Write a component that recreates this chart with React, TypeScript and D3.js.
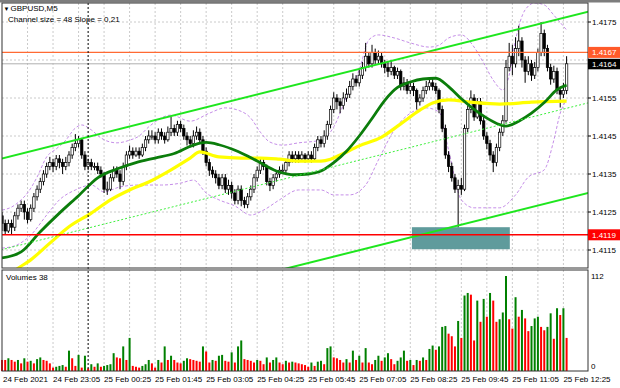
import React from "react";
import * as d3 from "d3";

// ---------- DATA (GBPUSD M5, 24 Feb 21:45 .. 25 Feb 12:30) ----------
const closes = [
  1.4122,1.4120,1.4122,1.4121,1.4124,1.4126,1.4127,1.4125,1.4123,1.4126,
  1.4129,1.4131,1.4133,1.4135,1.4137,1.4138,1.4137,1.4139,1.4138,1.4137,
  1.4138,1.4140,1.4142,1.4143,1.4144,1.4140,1.4137,1.4138,1.4137,1.4137,
  1.4136,1.4135,1.4131,1.4131,1.4134,1.4136,1.4135,1.4133,1.4137,1.4140,
  1.4141,1.4140,1.4141,1.4140,1.4142,1.4144,1.4145,1.4145,1.4144,1.4146,
  1.4145,1.4144,1.4146,1.4147,1.4146,1.4148,1.4147,1.4145,1.4144,1.4143,
  1.4145,1.4146,1.4144,1.4141,1.4138,1.4136,1.4135,1.4134,1.4132,1.4134,
  1.4131,1.4132,1.4130,1.4128,1.4131,1.4128,1.4127,1.4129,1.4131,1.4134,
  1.4136,1.4138,1.4137,1.4133,1.4132,1.4134,1.4135,1.4136,1.4136,1.4138,
  1.4140,1.4139,1.4140,1.4139,1.4140,1.4139,1.4140,1.4139,1.4142,1.4144,
  1.4143,1.4145,1.4148,1.4152,1.4155,1.4154,1.4153,1.4155,1.4156,1.4158,
  1.4160,1.4159,1.4161,1.4163,1.4166,1.4164,1.4167,1.4165,1.4166,1.4164,
  1.4163,1.4162,1.4163,1.4161,1.4162,1.4158,1.4159,1.4157,1.4158,1.4157,
  1.4154,1.4155,1.4157,1.4158,1.4159,1.4158,1.4157,1.4152,1.4147,1.4140,
  1.4137,1.4134,1.4131,1.4132,1.4131,1.4147,1.4152,1.4155,1.4150,1.4154,
  1.4149,1.4145,1.4143,1.4140,1.4138,1.4142,1.4146,1.4149,1.4163,1.4166,
  1.4164,1.4168,1.4170,1.4165,1.4162,1.4164,1.4161,1.4163,1.4167,1.4172,
  1.4168,1.4163,1.4160,1.4162,1.4157,1.4156,1.4157,1.4164,
];
const firstOpen = 1.4124;
const highs = [
  1.4125,1.4123,1.4123,1.4123,1.4125,1.4127,1.4128,1.4128,1.4126,1.4127,
  1.4130,1.4132,1.4134,1.4136,1.4138,1.41395,1.4139,1.4140,1.4140,1.4139,
  1.41395,1.4141,1.4143,1.41455,1.4145,1.41445,1.4141,1.4139,1.4139,1.4138,
  1.4138,1.4137,1.41355,1.4133,1.4135,1.4137,1.4137,1.4136,1.4138,1.4141,
  1.41425,1.4142,1.4142,1.4142,1.4143,1.4145,1.41465,1.41465,1.4146,1.4147,
  1.4147,1.4146,1.41475,1.4150,1.4148,1.4149,1.4149,1.4148,1.4146,1.4145,
  1.41465,1.41475,1.4147,1.4145,1.4142,1.4139,1.4137,1.4136,1.4135,1.4135,
  1.4135,1.41335,1.4133,1.4131,1.4132,1.4132,1.4129,1.4130,1.4132,1.4135,
  1.4137,1.4139,1.4139,1.41375,1.4134,1.4135,1.4136,1.4137,1.41375,1.4139,
  1.4141,1.4141,1.4141,1.4141,1.4141,1.41405,1.4141,1.4141,1.4143,1.4145,
  1.4145,1.41465,1.4149,1.4153,1.41565,1.4156,1.4155,1.41565,1.41575,1.41595,
  1.41615,1.4161,1.41625,1.41645,1.41695,1.4167,1.4169,1.4168,1.41675,1.4167,
  1.4165,1.41645,1.4165,1.41635,1.4163,1.41625,1.41605,1.4160,1.4159,1.4159,
  1.41575,1.4156,1.4158,1.41595,1.41605,1.4160,1.4159,1.41575,1.4153,1.4148,
  1.4141,1.4138,1.4135,1.41335,1.4134,1.4148,1.4153,1.4157,1.4156,1.4155,
  1.4155,1.4150,1.4146,1.4144,1.4141,1.4143,1.4147,1.41505,1.4165,1.41695,
  1.4169,1.4171,1.4174,1.4171,1.4166,1.4166,1.4165,1.41645,1.4168,1.4175,
  1.4173,1.4169,1.4164,1.41635,1.4163,1.4158,1.4159,1.4166,
];
const lows = [
  1.4120,1.4119,1.41195,1.4119,1.4120,1.4123,1.4125,1.4123,1.4122,1.41225,
  1.4125,1.4128,1.4130,1.4132,1.4134,1.4136,1.41355,1.4136,1.41365,1.4135,
  1.4136,1.4137,1.4139,1.4141,1.4142,1.4139,1.4136,1.4136,1.4136,1.4136,
  1.4135,1.4134,1.4130,1.41295,1.41305,1.4133,1.4134,1.4131,1.4132,1.4136,
  1.4139,1.4139,1.41395,1.4139,1.41395,1.4141,1.4143,1.4144,1.4143,1.4143,
  1.4144,1.4143,1.41435,1.4145,1.4145,1.4145,1.4146,1.4144,1.41425,1.4142,
  1.4142,1.4144,1.4143,1.4140,1.4137,1.41345,1.4134,1.41325,1.4131,1.4131,
  1.4130,1.41295,1.41285,1.4127,1.4127,1.41265,1.4126,1.4126,1.4128,1.4130,
  1.4133,1.4135,1.4136,1.4132,1.41305,1.4131,1.4133,1.4134,1.4135,1.4135,
  1.4137,1.4138,1.4138,1.4138,1.41385,1.4138,1.41385,1.4138,1.41385,1.4141,
  1.4142,1.4142,1.4144,1.4147,1.4151,1.4152,1.4151,1.4152,1.4154,1.4155,
  1.4157,1.4158,1.4158,1.4160,1.4162,1.4163,1.4163,1.4164,1.4164,1.4163,
  1.41615,1.41605,1.4161,1.4160,1.4160,1.4157,1.4157,1.4156,1.4156,1.41555,
  1.4152,1.4153,1.4154,1.4156,1.4157,1.4157,1.4156,1.4151,1.4146,1.4139,
  1.41355,1.4133,1.4130,1.4121,1.41295,1.41305,1.4146,1.4151,1.4149,1.41495,
  1.4148,1.4144,1.41415,1.41385,1.41355,1.4137,1.4141,1.4145,1.41485,1.4162,
  1.4161,1.4163,1.4166,1.4163,1.4159,1.4161,1.41595,1.4160,1.4162,1.4166,
  1.4166,1.4162,1.41585,1.4159,1.4156,1.41525,1.4155,1.4156,
];
const volumes = [
  13,13,15,13,11,13,9,15,11,12,
  9,14,16,13,12,9,4,5,6,7,
  5,24,15,6,19,4,18,3,8,5,
  9,5,6,7,8,21,16,15,29,13,
  39,6,5,4,6,8,13,9,4,13,
  10,29,13,18,13,10,9,12,15,14,
  13,12,11,29,23,10,13,12,18,19,
  12,11,22,10,29,36,14,13,12,10,
  13,12,8,16,10,13,16,10,8,12,
  10,11,10,9,8,7,5,10,6,11,
  12,8,27,29,16,15,13,10,14,10,
  24,13,18,10,27,10,8,13,18,12,
  16,21,14,8,12,16,24,12,13,7,
  13,12,16,13,26,30,25,29,52,53,
  44,41,29,59,39,89,92,90,36,83,
  58,85,64,92,83,58,61,69,112,61,
  50,87,64,72,62,47,53,62,64,52,
  48,52,68,38,74,66,74,39,
];
const prevVolume = 14;

// indicator readings: [bar index, price]
const greenMa = [[0,1.41129],[6,1.41145],[12,1.41198],[18,1.41247],[24,1.41293],[30,1.4134],[36,1.41363],[42,1.4138],[48,1.41392],[54,1.41404],[60,1.41426],[64,1.41433],[68,1.41427],[74,1.41409],[80,1.41384],[86,1.41358],[92,1.41348],[96,1.4135],[100,1.41358],[104,1.4138],[108,1.4141],[112,1.4145],[116,1.41496],[120,1.41544],[124,1.41578],[128,1.41592],[132,1.416],[136,1.41602],[140,1.4158],[144,1.41548],[148,1.4152],[152,1.41497],[156,1.4148],[158,1.41476],[162,1.41489],[166,1.4151],[170,1.41538],[174,1.41572],[177,1.41584]];
const yellowMa = [[0,1.4106],[4,1.41095],[9,1.41124],[15,1.41168],[21,1.41211],[28,1.41247],[34,1.41282],[40,1.41308],[46,1.41329],[53,1.41361],[59,1.41392],[62,1.41408],[68,1.41395],[75,1.41392],[81,1.41392],[87,1.41389],[93,1.41384],[100,1.41384],[103,1.41389],[106,1.414],[112,1.41424],[119,1.41447],[125,1.41482],[131,1.41518],[135,1.41537],[140,1.41545],[147,1.41539],[156,1.41534],[166,1.41539],[177,1.41542]];
const bbUpper = [[0,1.41255],[3,1.41263],[6,1.41282],[8,1.413],[11,1.41342],[14,1.41395],[17,1.41416],[20,1.41439],[23,1.41471],[25,1.41479],[28,1.41466],[31,1.41445],[34,1.41434],[36,1.41432],[40,1.41439],[43,1.4145],[46,1.41474],[53,1.41505],[59,1.41489],[65,1.4151],[70,1.41524],[74,1.41518],[78,1.41497],[81,1.4146],[84,1.41434],[88,1.41426],[93,1.41432],[100,1.41439],[104,1.41474],[108,1.41553],[112,1.41624],[115,1.41703],[118,1.41716],[123,1.41708],[128,1.41695],[134,1.41684],[137,1.41689],[140,1.41708],[144,1.41716],[148,1.41684],[151,1.41642],[154,1.41597],[157,1.41571],[159,1.4161],[161,1.41703],[164,1.41782],[167,1.418],[170,1.41795],[173,1.41768],[177,1.41729]];
const bbLower = [[0,1.41155],[4,1.41161],[9,1.41189],[14,1.41242],[18,1.41282],[23,1.41308],[28,1.41321],[32,1.41303],[37,1.41316],[43,1.41321],[50,1.41321],[56,1.41326],[60,1.41334],[64,1.413],[68,1.41282],[73,1.41266],[78,1.41242],[82,1.41255],[87,1.41282],[93,1.41308],[100,1.41308],[104,1.41295],[109,1.41295],[114,1.41321],[118,1.41387],[123,1.41466],[128,1.4151],[133,1.41524],[137,1.41513],[140,1.41413],[144,1.41282],[148,1.41261],[156,1.41261],[161,1.41295],[165,1.41342],[170,1.41361],[173,1.41439],[175,1.4151],[177,1.41545]];

// regression channel (two anchor points each: [bar, price])
const channelMid = [[0,1.41151],[177,1.41523]];
const channelUp = [[0,1.41391],[177,1.41763]];
const channelDown = [[0,1.40914],[177,1.41286]];

const resistanceLevel = 1.4167;
const supportLevel = 1.4119;
const bidLevel = 1.4164;
const zone = { from: 128.5, to: 159.2, top: 1.4121, bottom: 1.41152 };

const gridPrices = [1.4115, 1.4125, 1.4135, 1.4145, 1.4155, 1.4165, 1.4175];
const priceLabels = ["1.4115", "1.4125", "1.4135", "1.4145", "1.4155", "1.4175"];
const timeLabelBars = [0, 16, 32, 48, 64, 80, 96, 112, 128, 144, 160, 176];
const timeLabels = ["24 Feb 2021", "24 Feb 23:05", "25 Feb 00:25", "25 Feb 01:45", "25 Feb 03:05", "25 Feb 04:25", "25 Feb 05:45", "25 Feb 07:05", "25 Feb 08:25", "25 Feb 09:45", "25 Feb 11:05", "25 Feb 12:25"];
const dayBreakBar = 27;

export default function App() {
  const W = 620, H = 388;
  const L = 2, R = 588, mT = 3, mB = 268, vT = 270, vB = 371;
  const n = closes.length;
  const x = d3.scaleLinear().domain([0, n - 1]).range([2, 566.6]);
  const y = d3.scaleLinear().domain([1.4115, 1.4175]).range([250, 22]);
  const yv = d3.scaleLinear().domain([0, 112]).range([vB, 276]);
  const curve = d3.line<number[]>().x(d => x(d[0])).y(d => y(d[1])).curve(d3.curveMonotoneX);
  const font = "'Liberation Sans', Arial, sans-serif";
  const fs = 8;

  const chan = (pts: number[][]) => {
    const s = d3.scaleLinear().domain([pts[0][0], pts[1][0]]).range([pts[0][1], pts[1][1]]);
    const b0 = x.invert(L - 5), b1 = x.invert(R + 5);
    return { x1: x(b0), y1: y(s(b0)), x2: x(b1), y2: y(s(b1)) };
  };
  const cm = chan(channelMid), cu = chan(channelUp), cd = chan(channelDown);

  const gridBars = d3.range(8, n, 8);
  const bw = 2.4;

  return (
    <div style={{ position: "absolute", left: 0, top: 0 }}>
      <svg width={W} height={H} style={{ display: "block", background: "#fff" }} fontFamily={font}>
        <defs>
          <clipPath id="mainClip"><rect x={L} y={mT} width={R - L} height={mB - mT} /></clipPath>
        </defs>
        <rect x={0} y={0} width={W} height={2.5} fill="#7d7d7d" />
        {gridBars.map(b => (
          <line key={"gv" + b} x1={x(b)} x2={x(b)} y1={mT} y2={mB} stroke="#bdbdbd" strokeWidth={0.8} strokeDasharray="2,2" />
        ))}
        {gridPrices.map(p => (
          <line key={"gh" + p} x1={L} x2={R} y1={y(p)} y2={y(p)} stroke="#bdbdbd" strokeWidth={0.8} strokeDasharray="2,2" />
        ))}
        {gridBars.map(b => (
          <line key={"gvv" + b} x1={x(b)} x2={x(b)} y1={vT} y2={vB} stroke="#bdbdbd" strokeWidth={0.8} strokeDasharray="2,2" />
        ))}

        <g clipPath="url(#mainClip)">
          <rect x={x(zone.from)} y={y(zone.top)} width={x(zone.to) - x(zone.from)} height={y(zone.bottom) - y(zone.top)} fill="#5f9b9c" />
          <line x1={L} x2={R} y1={y(bidLevel)} y2={y(bidLevel)} stroke="#b0b0b0" strokeWidth={1} />
          <path d={curve(bbUpper) || ""} fill="none" stroke="#c58ee8" strokeWidth={1} strokeDasharray="3,2" />
          <path d={curve(bbLower) || ""} fill="none" stroke="#c58ee8" strokeWidth={1} strokeDasharray="3,2" />
          {closes.map((c, i) => {
            const o = i === 0 ? firstOpen : closes[i - 1];
            const cx = x(i);
            const top = y(Math.max(o, c)), bot = y(Math.min(o, c));
            const bull = c >= o;
            return (
              <g key={"c" + i}>
                <line x1={cx} x2={cx} y1={y(highs[i])} y2={y(lows[i])} stroke="#000" strokeWidth={1} />
                <rect x={cx - bw / 2} y={top} width={bw} height={Math.max(1, bot - top)} fill={bull ? "#fff" : "#000"} stroke="#000" strokeWidth={0.7} />
              </g>
            );
          })}
          <path d={curve(yellowMa) || ""} fill="none" stroke="#ffff00" strokeWidth={3.2} />
          <path d={curve(greenMa) || ""} fill="none" stroke="#0b7d0b" strokeWidth={2.8} />
          <line {...cu} stroke="#1ee61e" strokeWidth={2} />
          <line {...cd} stroke="#1ee61e" strokeWidth={2} />
          <line {...cm} stroke="#3ef03e" strokeWidth={1} strokeDasharray="2,2" />
          <line x1={L} x2={R} y1={y(resistanceLevel)} y2={y(resistanceLevel)} stroke="#ff6a33" strokeWidth={1.3} />
          <line x1={L} x2={R} y1={y(supportLevel)} y2={y(supportLevel)} stroke="#ff0000" strokeWidth={1.5} />
        </g>

        {volumes.map((v, i) => {
          const pv = i === 0 ? prevVolume : volumes[i - 1];
          return (
            <rect key={"v" + i} x={x(i) - 1} y={yv(v)} width={2} height={yv(0) - yv(v)} fill={v > pv ? "#008000" : "#ff0000"} />
          );
        })}

        <line x1={x(dayBreakBar)} x2={x(dayBreakBar)} y1={mT} y2={vB} stroke="#000" strokeWidth={1} strokeDasharray="2,2" />

        <rect x={L} y={mT} width={R - L} height={mB - mT} fill="none" stroke="#333" strokeWidth={1} />
        <rect x={L} y={vT} width={R - L} height={vB - vT} fill="none" stroke="#333" strokeWidth={1} />

        {gridPrices.map(p => (
          <line key={"pt" + p} x1={R} x2={R + 3} y1={y(p)} y2={y(p)} stroke="#000" strokeWidth={1} />
        ))}
        {priceLabels.map(s => (
          <text key={"pl" + s} x={592} y={y(+s) + 3} fontSize={fs} fill="#000">{s}</text>
        ))}
        <rect x={R} y={y(resistanceLevel) - 5.5} width={32} height={11} fill="#ff5a2a" />
        <text x={592} y={y(resistanceLevel) + 3} fontSize={fs} fill="#fff">{resistanceLevel.toFixed(4)}</text>
        <rect x={R} y={y(bidLevel) - 5} width={32} height={10.5} fill="#000" />
        <text x={592} y={y(bidLevel) + 3} fontSize={fs} fill="#fff">{bidLevel.toFixed(4)}</text>
        <rect x={R} y={y(supportLevel) - 5.5} width={32} height={11} fill="#ff0000" />
        <text x={592} y={y(supportLevel) + 3} fontSize={fs} fill="#fff">{supportLevel.toFixed(4)}</text>

        <text x={591} y={279} fontSize={fs} fill="#000">112</text>
        <text x={591} y={369} fontSize={fs} fill="#000">0</text>

        {timeLabelBars.map((b, k) => (
          <text key={"tl" + b} x={k === 0 ? 3 : x(b)} y={381.5} fontSize={fs} fill="#000">{timeLabels[k]}</text>
        ))}

        <text x={3.5} y={10.5} fontSize={6} fill="#000">▼</text>
        <text x={10.5} y={11} fontSize={fs} fill="#000">GBPUSD,M5</text>
        <text x={8} y={22} fontSize={fs} fill="#000">Channel size = 48 Slope = 0,21</text>
        <text x={6} y={280} fontSize={fs} fill="#000">Volumes 38</text>
      </svg>
    </div>
  );
}
